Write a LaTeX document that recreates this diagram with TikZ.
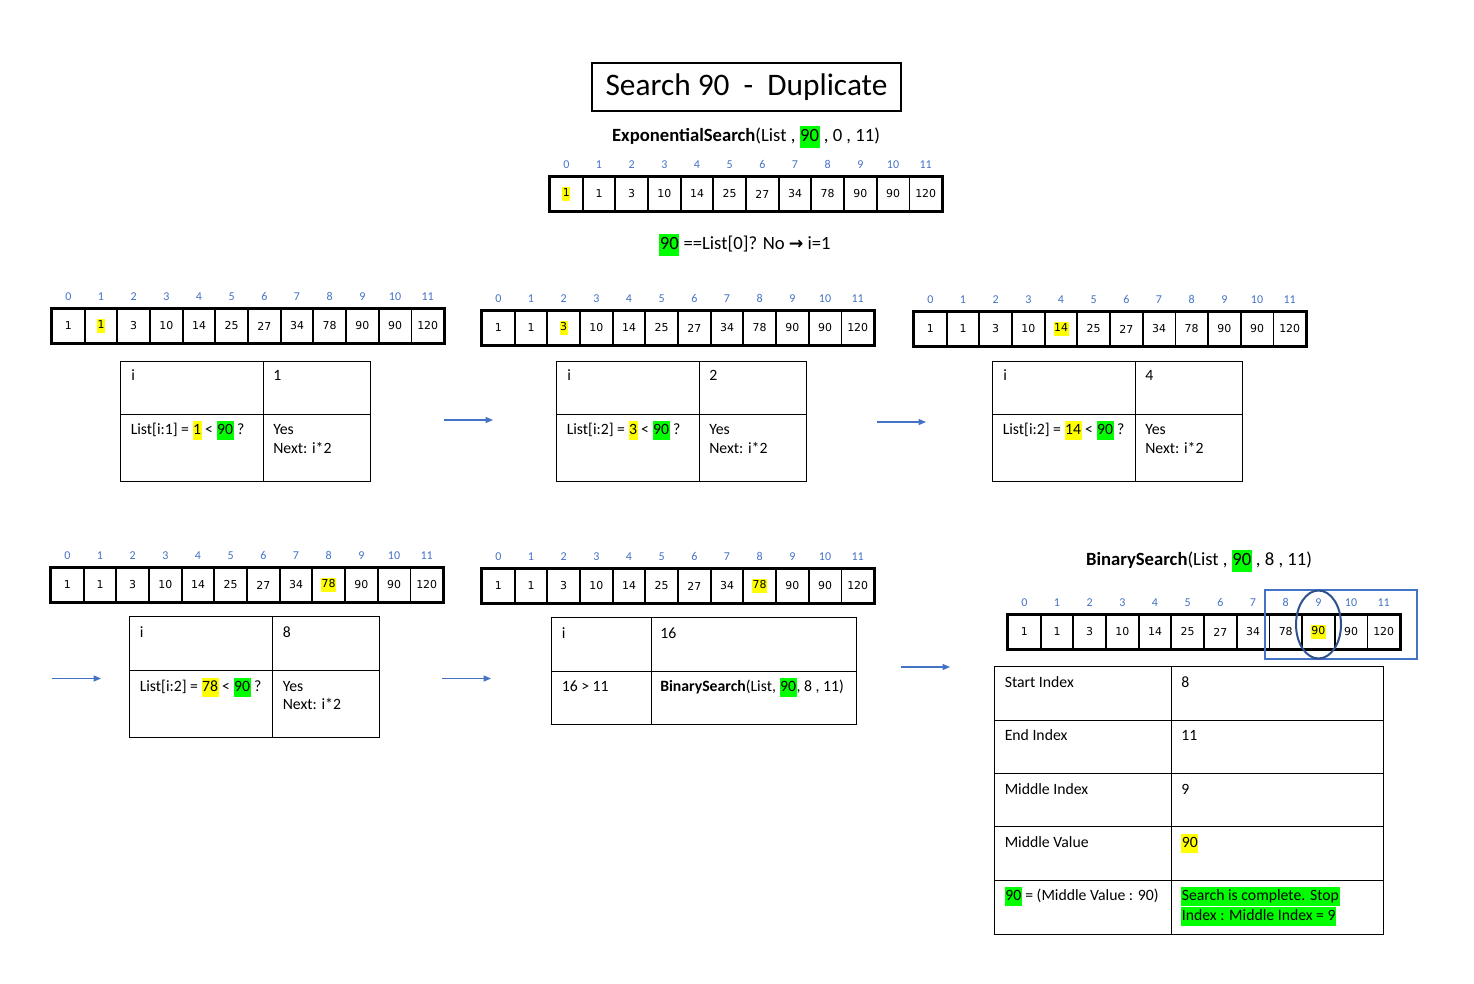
\documentclass[tikz,border=0pt]{standalone}
\usepackage{fontspec}
\setmainfont{Carlito}
\newfontfamily\verd{DejaVu Sans}
\usetikzlibrary{arrows.meta}
\definecolor{hy}{HTML}{FFFF00}
\definecolor{hg}{HTML}{00FF00}
\definecolor{idxblue}{HTML}{4472C4}
\definecolor{darkblue}{HTML}{2F528F}
\newcommand{\hly}[1]{{\setlength{\fboxsep}{0pt}\colorbox{hy}{\strut\kern0.4pt#1\kern0.4pt}}}
\newcommand{\hlg}[1]{{\setlength{\fboxsep}{0pt}\colorbox{hg}{\strut\kern0.4pt#1\kern0.4pt}}}
\tikzset{
  acell/.style={draw, line width=1.3pt, minimum width=24.5pt, minimum height=24.75pt, inner sep=0pt, font=\verd\fontsize{8.2}{10}\selectfont},
  aidx/.style={inner sep=0pt, text=idxblue, font=\fontsize{9}{10}\selectfont},
  tline/.style={line width=0.7pt},
  ttext/.style={inner sep=0pt, anchor=base west, font=\fontsize{11.8}{14}\selectfont},
  flowarrow/.style={draw=idxblue, line width=0.8pt, -{Triangle[length=5.5pt,width=4.5pt]}},
  hdr/.style={inner sep=0pt, font=\fontsize{14}{17}\selectfont}
}
\newcommand{\arr}[4]{%
  \foreach \v [count=\j from 0] in {1,1,3,10,14,25,27,34,78,90,90,120}{%
    \node[acell] (#1-\j) at ({#2+16.33+32.67*\j},{#3+17}) {\ifnum\j=#4\relax\hly{\v}\else\v\fi};
    \node[aidx] (#1-x\j) at ({#2+16.33+32.67*\j},{#3-12.5}) {\j};
  }%
  \draw[line width=2.2pt] (#1-0.north west) rectangle (#1-11.south east);
}
\newcommand{\grid}[7]{%
  \coordinate (#1-nw) at (#2,#3);
  \coordinate (#1-se) at (#6,#7);
  \draw[tline] (#2,#3) rectangle (#6,#7) (#4,#3) -- (#4,#7) (#2,#5) -- (#6,#5);
}
\begin{document}
\begin{tikzpicture}[x=0.75pt,y=-0.75pt]
\path[use as bounding box] (0,0) rectangle (1474,983);

% title
\node[draw, line width=1.5pt, minimum width=231.75pt, minimum height=36pt, inner sep=0pt, font=\fontsize{23.5}{28}\selectfont] (title) at (746.5,87) {\raisebox{-1.2pt}{Search 90\ \ -\ \ Duplicate}};
\node[hdr] (expcall) at (746,137) {\textbf{ExponentialSearch}(List , \hlg{90} , 0 , 11)};
\arr{a0}{550}{177}{0}
\node[hdr] (check0) at (745,245) {\hlg{90} ==List[0]? No {\verd\bfseries\fontsize{13}{16}\selectfont →} i=1};

% row 1
\arr{a1}{52}{309}{1}
\arr{a2}{482}{311}{2}
\arr{a3}{914}{312}{4}

\grid{t1}{120}{361}{263}{414}{370}{481}
\node[ttext] (t1a) at (131,380.5) {i};
\node[ttext] (t1b) at (273,380.5) {1};
\node[ttext] (t1c) at (130.5,434.5) {List[i:1] = \hly{1} < \hlg{90} ?};
\node[ttext] (t1d) at (273,434.5) {Yes};
\node[ttext] (t1e) at (273,453) {Next: i*2};

\grid{t2}{556}{361}{699}{414}{806}{481}
\node[ttext] (t2a) at (567,380.5) {i};
\node[ttext] (t2b) at (709,380.5) {2};
\node[ttext] (t2c) at (566.5,434.5) {List[i:2] = \hly{3} < \hlg{90} ?};
\node[ttext] (t2d) at (709,434.5) {Yes};
\node[ttext] (t2e) at (709,453) {Next: i*2};

\grid{t3}{992}{361}{1135.5}{414}{1242}{481}
\node[ttext] (t3a) at (1003,380.5) {i};
\node[ttext] (t3b) at (1145,380.5) {4};
\node[ttext] (t3c) at (1002.5,434.5) {List[i:2] = \hly{14} < \hlg{90} ?};
\node[ttext] (t3d) at (1145,434.5) {Yes};
\node[ttext] (t3e) at (1145,453) {Next: i*2};

\coordinate (r1s) at (444,420); \coordinate (r1e) at (493,420);
\coordinate (r2s) at (877,422); \coordinate (r2e) at (926,422);
\draw[flowarrow] (r1s) -- (r1e);
\draw[flowarrow] (r2s) -- (r2e);

% row 2
\arr{a4}{51}{568}{8}
\arr{a5}{482}{569}{8}

\grid{t4}{129}{616.5}{272.5}{670.5}{379}{737.5}
\node[ttext] (t4a) at (139.5,637) {i};
\node[ttext] (t4b) at (282.5,637) {8};
\node[ttext] (t4c) at (139.5,691) {List[i:2] = \hly{78} < \hlg{90} ?};
\node[ttext] (t4d) at (282.5,691) {Yes};
\node[ttext] (t4e) at (282.5,709.5) {Next: i*2};

\grid{t5}{551}{617}{651}{671}{856.5}{724}
\node[ttext] (t5a) at (561.5,638.5) {i};
\node[ttext] (t5b) at (660,638.5) {16};
\node[ttext] (t5c) at (561.5,691.5) {16 > 11};
\node[ttext] (t5d) at (660,691.5) {\textbf{BinarySearch}(List, \hlg{90}, 8 , 11)};

\coordinate (r3s) at (52,678.5); \coordinate (r3e) at (101,678.5);
\coordinate (r4s) at (442,678.5); \coordinate (r4e) at (491,678.5);
\coordinate (r5s) at (901,667); \coordinate (r5e) at (950,667);
\draw[flowarrow] (r3s) -- (r3e);
\draw[flowarrow] (r4s) -- (r4e);
\draw[flowarrow] (r5s) -- (r5e);

% binary search
\node[hdr] (bincall) at (1199,561) {\textbf{BinarySearch}(List , \hlg{90} , 8 , 11)};
\arr{a6}{1008}{615}{9}
\draw[idxblue, line width=1.5pt] (1265,590) rectangle (1417,659);
\draw[darkblue, line width=1.5pt] (1318.5,624.5) ellipse [x radius=22.5, y radius=34];

\draw[tline] (994,666.5) rectangle (1383,934);
\draw[tline] (1171.5,666.5) -- (1171.5,934);
\foreach \yy in {720,773,826.5,880} \draw[tline] (994,\yy) -- (1383,\yy);
\node[ttext] (b1a) at (1004.5,687) {Start Index};
\node[ttext] (b1b) at (1181,687) {8};
\node[ttext] (b2a) at (1004.5,740.5) {End Index};
\node[ttext] (b2b) at (1181,740.5) {11};
\node[ttext] (b3a) at (1004.5,794) {Middle Index};
\node[ttext] (b3b) at (1181,794) {9};
\node[ttext] (b4a) at (1004.5,847) {Middle Value};
\node[ttext] (b4b) at (1181,847) {\hly{90}};
\node[ttext] (b5a) at (1004.5,900.5) {\hlg{90} = (Middle Value : 90)};
\node[ttext] (b5b) at (1181,900.5) {\hlg{Search is complete. Stop}};
\node[ttext] (b5c) at (1181,920) {\hlg{Index : Middle Index = 9}};
\end{tikzpicture}
\end{document}
